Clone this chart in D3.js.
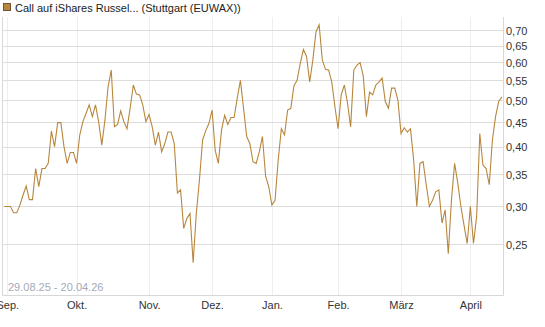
<!DOCTYPE html>
<html>
<head>
<meta charset="utf-8">
<script src="https://cdn.jsdelivr.net/npm/d3@7"></script>
<style>
  body { margin: 0; background: #fff; }
  text { font-family: "Liberation Sans", Arial, sans-serif; }
</style>
</head>
<body>
<div id="chart"></div>
<script>
// series title and date range
const seriesName = "Call auf iShares Russel... (Stuttgart (EUWAX))";
const rangeLabel = "29.08.25 - 20.04.26";

// daily closing values, one per trading day (29.08.25 .. 20.04.26)
const prices = [
  0.300, 0.300, 0.300, 0.291, 0.291, 0.302, 0.317, 0.331, 0.310, 0.310,
  0.360, 0.330, 0.360, 0.360, 0.369, 0.431, 0.400, 0.449, 0.449, 0.400,
  0.369, 0.389, 0.389, 0.369, 0.423, 0.451, 0.469, 0.489, 0.462, 0.489,
  0.451, 0.403, 0.455, 0.534, 0.578, 0.440, 0.445, 0.475, 0.451, 0.436,
  0.481, 0.538, 0.515, 0.513, 0.489, 0.451, 0.467, 0.440, 0.403, 0.429,
  0.390, 0.406, 0.429, 0.429, 0.406, 0.320, 0.325, 0.270, 0.283, 0.290,
  0.229, 0.290, 0.341, 0.413, 0.432, 0.447, 0.477, 0.393, 0.369, 0.433,
  0.465, 0.445, 0.460, 0.460, 0.505, 0.550, 0.481, 0.420, 0.406, 0.372,
  0.369, 0.390, 0.420, 0.347, 0.330, 0.302, 0.309, 0.375, 0.436, 0.423,
  0.477, 0.481, 0.536, 0.550, 0.597, 0.638, 0.617, 0.546, 0.607, 0.695,
  0.718, 0.607, 0.580, 0.578, 0.546, 0.485, 0.436, 0.513, 0.538, 0.493,
  0.440, 0.578, 0.592, 0.599, 0.562, 0.462, 0.520, 0.513, 0.538, 0.546,
  0.556, 0.497, 0.481, 0.530, 0.530, 0.500, 0.426, 0.438, 0.429, 0.436,
  0.375, 0.300, 0.369, 0.372, 0.333, 0.300, 0.309, 0.322, 0.325, 0.277,
  0.295, 0.239, 0.309, 0.369, 0.336, 0.300, 0.274, 0.251, 0.300, 0.251,
  0.286, 0.426, 0.366, 0.360, 0.333, 0.413, 0.462, 0.497, 0.508
];

// month labels and the trading-day index of each month's first session
const monthLabels = ["Sep.", "Okt.", "Nov.", "Dez.", "Jan.", "Feb.", "März", "April"];
const monthIndex = [1, 23, 46, 66, 85, 106, 126, 148];

// y axis tick values
const yTicks = [0.25, 0.30, 0.35, 0.40, 0.45, 0.50, 0.55, 0.60, 0.65, 0.70];

const width = 545, height = 327;
const plot = {left: 2.5, right: 503, top: 17, bottom: 295};

const svg = d3.select("#chart")
  .append("svg")
  .attr("width", width)
  .attr("height", height);

const x = d3.scaleLinear()
  .domain([0, prices.length - 1])
  .range([4.15, 4.15 + 3.15 * (prices.length - 1)]);

const y = d3.scaleLog()
  .domain([0.196, 0.746])
  .range([plot.bottom, plot.top]);

// vertical month grid
svg.append("g")
  .selectAll("line")
  .data(monthIndex)
  .join("line")
  .attr("x1", d => Math.round(x(d)) + 0.5)
  .attr("x2", d => Math.round(x(d)) + 0.5)
  .attr("y1", plot.top)
  .attr("y2", plot.bottom)
  .attr("stroke", "#eeeeee");

// horizontal grid
svg.append("g")
  .selectAll("line")
  .data(yTicks)
  .join("line")
  .attr("x1", plot.left)
  .attr("x2", plot.right)
  .attr("y1", d => Math.round(y(d)) + 0.5)
  .attr("y2", d => Math.round(y(d)) + 0.5)
  .attr("stroke", "#dddddd");

// frame: left, bottom, right
svg.append("path")
  .attr("d", `M${plot.left},${plot.top}V${plot.bottom + 0.5}H${plot.right + 0.5}V${plot.top}`)
  .attr("fill", "none")
  .attr("stroke", "#d8d8d8");

// y axis on the right
const yAxis = d3.axisRight(y)
  .tickValues(yTicks)
  .tickSize(0)
  .tickPadding(3)
  .tickFormat(d => d3.format(".2f")(d).replace(".", ","));
svg.append("g")
  .attr("transform", `translate(${plot.right},0.5)`)
  .call(yAxis)
  .call(g => g.select(".domain").remove())
  .call(g => g.selectAll("text")
    .attr("font-size", 11)
    .attr("font-family", "Liberation Sans, Arial, sans-serif")
    .attr("fill", "#333"));

// x axis month labels
const xAxis = d3.axisBottom(x)
  .tickValues(monthIndex)
  .tickSize(0)
  .tickPadding(6)
  .tickFormat((d, i) => monthLabels[i]);
svg.append("g")
  .attr("transform", `translate(0,${plot.bottom})`)
  .call(xAxis)
  .call(g => g.select(".domain").remove())
  .call(g => g.selectAll("text")
    .attr("font-size", 11)
    .attr("font-family", "Liberation Sans, Arial, sans-serif")
    .attr("fill", "#333"));

// price line
svg.append("path")
  .datum(prices)
  .attr("fill", "none")
  .attr("stroke", "#b8873d")
  .attr("stroke-width", 1.1)
  .attr("d", d3.line()
    .x((d, i) => x(i))
    .y(d => y(d)));

// date range note
svg.append("text")
  .attr("x", 8)
  .attr("y", 291)
  .attr("font-size", 11)
  .attr("fill", "#a3aab8")
  .text(rangeLabel);

// legend
svg.append("rect")
  .attr("x", 3.5)
  .attr("y", 3.5)
  .attr("width", 7)
  .attr("height", 7)
  .attr("fill", "#b8873d")
  .attr("stroke", "#6b5535");
svg.append("text")
  .attr("x", 15)
  .attr("y", 12)
  .attr("font-size", 11)
  .attr("fill", "#222")
  .text(seriesName);
</script>
</body>
</html>
